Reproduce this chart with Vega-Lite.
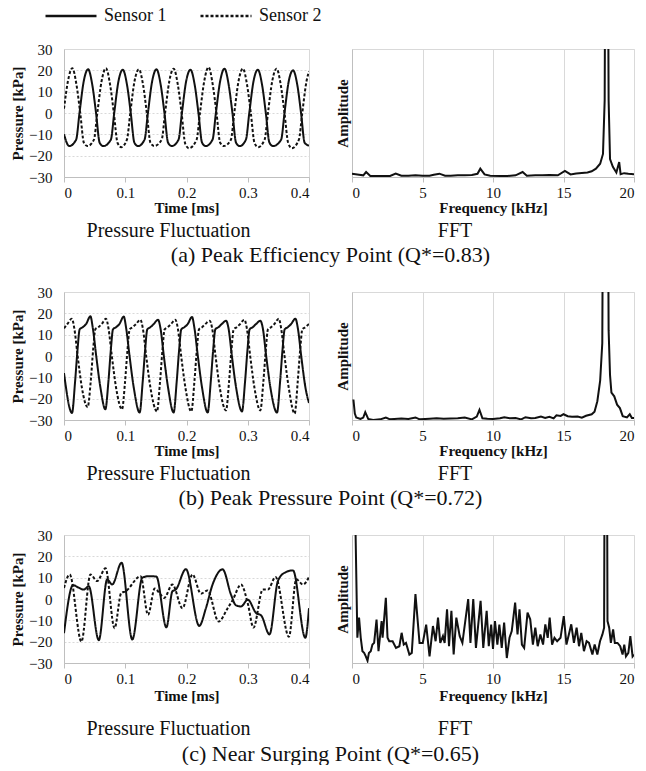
{
"$schema": "https://vega.github.io/schema/vega-lite/v6.json",
"padding": {"left": 10, "top": -12, "right": 0, "bottom": 0},
"background": "white",
"config": {
  "font": "Liberation Serif",
  "view": {"stroke": "#d9d9d9"},
  "axis": {"labelFont": "Liberation Serif", "labelFontSize": 15, "labelColor": "#111", "titleFont": "Liberation Serif", "titleFontSize": 15, "titleFontWeight": "bold", "titleColor": "#111", "domainColor": "#bfbfbf", "tickColor": "#bfbfbf", "gridColor": "#d9d9d9"},
  "title": {"font": "Liberation Serif", "fontSize": 20, "fontWeight": "normal", "color": "#111"}
},
"datasets": {
  "p1": [
    {"t":0,"p":-10,"s":"Sensor 1"},{"t":0.0085,"p":-15.5,"s":"Sensor 1"},{"t":0.0198,"p":-12.5,"s":"Sensor 1"},{"t":0.0253,"p":0,"s":"Sensor 1"},{"t":0.0323,"p":15,"s":"Sensor 1"},{"t":0.0393,"p":20.5,"s":"Sensor 1"},{"t":0.0463,"p":13,"s":"Sensor 1"},{"t":0.0523,"p":0,"s":"Sensor 1"},{"t":0.0583,"p":-14,"s":"Sensor 1"},{"t":0.0643,"p":-15.5,"s":"Sensor 1"},
    {"t":0.0765,"p":-12.5,"s":"Sensor 1"},{"t":0.082,"p":0,"s":"Sensor 1"},{"t":0.089,"p":15,"s":"Sensor 1"},{"t":0.096,"p":20.3,"s":"Sensor 1"},{"t":0.103,"p":13,"s":"Sensor 1"},{"t":0.109,"p":0,"s":"Sensor 1"},{"t":0.115,"p":-14,"s":"Sensor 1"},{"t":0.121,"p":-15.5,"s":"Sensor 1"},
    {"t":0.1315,"p":-12.5,"s":"Sensor 1"},{"t":0.137,"p":0,"s":"Sensor 1"},{"t":0.144,"p":15,"s":"Sensor 1"},{"t":0.151,"p":20.5,"s":"Sensor 1"},{"t":0.158,"p":13,"s":"Sensor 1"},{"t":0.164,"p":0,"s":"Sensor 1"},{"t":0.17,"p":-14,"s":"Sensor 1"},{"t":0.176,"p":-15.5,"s":"Sensor 1"},
    {"t":0.187,"p":-12.5,"s":"Sensor 1"},{"t":0.1925,"p":0,"s":"Sensor 1"},{"t":0.1995,"p":15,"s":"Sensor 1"},{"t":0.2065,"p":20.3,"s":"Sensor 1"},{"t":0.2135,"p":13,"s":"Sensor 1"},{"t":0.2195,"p":0,"s":"Sensor 1"},{"t":0.2255,"p":-14,"s":"Sensor 1"},{"t":0.2315,"p":-15.5,"s":"Sensor 1"},
    {"t":0.2425,"p":-12.5,"s":"Sensor 1"},{"t":0.248,"p":0,"s":"Sensor 1"},{"t":0.255,"p":15,"s":"Sensor 1"},{"t":0.262,"p":20.8,"s":"Sensor 1"},{"t":0.269,"p":13,"s":"Sensor 1"},{"t":0.275,"p":0,"s":"Sensor 1"},{"t":0.281,"p":-14,"s":"Sensor 1"},{"t":0.287,"p":-15.5,"s":"Sensor 1"},
    {"t":0.297,"p":-12.5,"s":"Sensor 1"},{"t":0.3025,"p":0,"s":"Sensor 1"},{"t":0.3095,"p":15,"s":"Sensor 1"},{"t":0.3165,"p":20.3,"s":"Sensor 1"},{"t":0.3235,"p":13,"s":"Sensor 1"},{"t":0.3295,"p":0,"s":"Sensor 1"},{"t":0.3355,"p":-14,"s":"Sensor 1"},{"t":0.3415,"p":-15.5,"s":"Sensor 1"},
    {"t":0.3545,"p":-12.5,"s":"Sensor 1"},{"t":0.36,"p":0,"s":"Sensor 1"},{"t":0.367,"p":15,"s":"Sensor 1"},{"t":0.374,"p":20,"s":"Sensor 1"},{"t":0.381,"p":13,"s":"Sensor 1"},{"t":0.387,"p":0,"s":"Sensor 1"},{"t":0.393,"p":-14,"s":"Sensor 1"},{"t":0.4,"p":-15.3,"s":"Sensor 1"},
    {"t":0,"p":2,"s":"Sensor 2"},{"t":0.0065,"p":15,"s":"Sensor 2"},{"t":0.0135,"p":21,"s":"Sensor 2"},{"t":0.0205,"p":13,"s":"Sensor 2"},{"t":0.0265,"p":0,"s":"Sensor 2"},{"t":0.0325,"p":-14,"s":"Sensor 2"},{"t":0.0385,"p":-15.5,"s":"Sensor 2"},
    {"t":0.0489,"p":-12.5,"s":"Sensor 2"},{"t":0.0544,"p":0,"s":"Sensor 2"},{"t":0.0614,"p":15,"s":"Sensor 2"},{"t":0.0684,"p":21,"s":"Sensor 2"},{"t":0.0754,"p":13,"s":"Sensor 2"},{"t":0.0814,"p":0,"s":"Sensor 2"},{"t":0.0874,"p":-14,"s":"Sensor 2"},{"t":0.0934,"p":-16,"s":"Sensor 2"},
    {"t":0.1027,"p":-12.5,"s":"Sensor 2"},{"t":0.1082,"p":0,"s":"Sensor 2"},{"t":0.1152,"p":15,"s":"Sensor 2"},{"t":0.1222,"p":20.5,"s":"Sensor 2"},{"t":0.1292,"p":13,"s":"Sensor 2"},{"t":0.1352,"p":0,"s":"Sensor 2"},{"t":0.1412,"p":-14,"s":"Sensor 2"},{"t":0.1472,"p":-15.5,"s":"Sensor 2"},
    {"t":0.1595,"p":-12.5,"s":"Sensor 2"},{"t":0.165,"p":0,"s":"Sensor 2"},{"t":0.172,"p":15,"s":"Sensor 2"},{"t":0.179,"p":20.8,"s":"Sensor 2"},{"t":0.186,"p":13,"s":"Sensor 2"},{"t":0.192,"p":0,"s":"Sensor 2"},{"t":0.198,"p":-14.5,"s":"Sensor 2"},{"t":0.204,"p":-16.5,"s":"Sensor 2"},
    {"t":0.2165,"p":-12.5,"s":"Sensor 2"},{"t":0.222,"p":0,"s":"Sensor 2"},{"t":0.229,"p":15,"s":"Sensor 2"},{"t":0.236,"p":21.5,"s":"Sensor 2"},{"t":0.243,"p":13,"s":"Sensor 2"},{"t":0.249,"p":0,"s":"Sensor 2"},{"t":0.255,"p":-14,"s":"Sensor 2"},{"t":0.261,"p":-15.5,"s":"Sensor 2"},
    {"t":0.2725,"p":-12.5,"s":"Sensor 2"},{"t":0.278,"p":0,"s":"Sensor 2"},{"t":0.285,"p":15,"s":"Sensor 2"},{"t":0.292,"p":20.8,"s":"Sensor 2"},{"t":0.299,"p":13,"s":"Sensor 2"},{"t":0.305,"p":0,"s":"Sensor 2"},{"t":0.311,"p":-14,"s":"Sensor 2"},{"t":0.317,"p":-16,"s":"Sensor 2"},
    {"t":0.3275,"p":-12.5,"s":"Sensor 2"},{"t":0.333,"p":0,"s":"Sensor 2"},{"t":0.34,"p":15,"s":"Sensor 2"},{"t":0.347,"p":20.8,"s":"Sensor 2"},{"t":0.354,"p":13,"s":"Sensor 2"},{"t":0.36,"p":0,"s":"Sensor 2"},{"t":0.366,"p":-14,"s":"Sensor 2"},{"t":0.372,"p":-16.5,"s":"Sensor 2"},
    {"t":0.3835,"p":-12.5,"s":"Sensor 2"},{"t":0.389,"p":0,"s":"Sensor 2"},{"t":0.396,"p":15,"s":"Sensor 2"},{"t":0.4,"p":19.5,"s":"Sensor 2"}
  ],
  "p2": [
    {"t":0,"p":-8,"s":"Sensor 1"},{"t":0.0131,"p":-26.7,"s":"Sensor 1"},{"t":0.0181,"p":-12,"s":"Sensor 1"},{"t":0.0221,"p":3,"s":"Sensor 1"},{"t":0.0256,"p":12.5,"s":"Sensor 1"},{"t":0.0306,"p":13.5,"s":"Sensor 1"},{"t":0.0361,"p":15,"s":"Sensor 1"},{"t":0.0431,"p":18.6,"s":"Sensor 1"},{"t":0.0471,"p":13,"s":"Sensor 1"},{"t":0.0526,"p":0,"s":"Sensor 1"},{"t":0.0596,"p":-15,"s":"Sensor 1"},
    {"t":0.0675,"p":-25,"s":"Sensor 1"},{"t":0.0725,"p":-12,"s":"Sensor 1"},{"t":0.0765,"p":3,"s":"Sensor 1"},{"t":0.08,"p":12.5,"s":"Sensor 1"},{"t":0.085,"p":13.5,"s":"Sensor 1"},{"t":0.0905,"p":15,"s":"Sensor 1"},{"t":0.0975,"p":18.5,"s":"Sensor 1"},{"t":0.1015,"p":13,"s":"Sensor 1"},{"t":0.107,"p":0,"s":"Sensor 1"},{"t":0.114,"p":-15,"s":"Sensor 1"},
    {"t":0.1235,"p":-26.5,"s":"Sensor 1"},{"t":0.1285,"p":-12,"s":"Sensor 1"},{"t":0.1325,"p":3,"s":"Sensor 1"},{"t":0.136,"p":12.5,"s":"Sensor 1"},{"t":0.141,"p":13.5,"s":"Sensor 1"},{"t":0.1465,"p":15,"s":"Sensor 1"},{"t":0.1535,"p":17,"s":"Sensor 1"},{"t":0.1575,"p":13,"s":"Sensor 1"},{"t":0.163,"p":0,"s":"Sensor 1"},{"t":0.17,"p":-15,"s":"Sensor 1"},
    {"t":0.179,"p":-26.5,"s":"Sensor 1"},{"t":0.184,"p":-12,"s":"Sensor 1"},{"t":0.188,"p":3,"s":"Sensor 1"},{"t":0.1915,"p":12.5,"s":"Sensor 1"},{"t":0.1965,"p":13.5,"s":"Sensor 1"},{"t":0.202,"p":15,"s":"Sensor 1"},{"t":0.209,"p":18.3,"s":"Sensor 1"},{"t":0.213,"p":13,"s":"Sensor 1"},{"t":0.2185,"p":0,"s":"Sensor 1"},{"t":0.2255,"p":-15,"s":"Sensor 1"},
    {"t":0.2346,"p":-26.5,"s":"Sensor 1"},{"t":0.2396,"p":-12,"s":"Sensor 1"},{"t":0.2436,"p":3,"s":"Sensor 1"},{"t":0.2471,"p":12.5,"s":"Sensor 1"},{"t":0.2521,"p":13.5,"s":"Sensor 1"},{"t":0.2576,"p":15,"s":"Sensor 1"},{"t":0.2646,"p":16.5,"s":"Sensor 1"},{"t":0.2686,"p":13,"s":"Sensor 1"},{"t":0.2741,"p":0,"s":"Sensor 1"},{"t":0.2811,"p":-15,"s":"Sensor 1"},
    {"t":0.2906,"p":-26,"s":"Sensor 1"},{"t":0.2956,"p":-12,"s":"Sensor 1"},{"t":0.2996,"p":3,"s":"Sensor 1"},{"t":0.3031,"p":12.5,"s":"Sensor 1"},{"t":0.3081,"p":13.5,"s":"Sensor 1"},{"t":0.3136,"p":15,"s":"Sensor 1"},{"t":0.3206,"p":16.5,"s":"Sensor 1"},{"t":0.3246,"p":13,"s":"Sensor 1"},{"t":0.3301,"p":0,"s":"Sensor 1"},{"t":0.3371,"p":-15,"s":"Sensor 1"},
    {"t":0.3478,"p":-26.5,"s":"Sensor 1"},{"t":0.3528,"p":-12,"s":"Sensor 1"},{"t":0.3568,"p":3,"s":"Sensor 1"},{"t":0.3603,"p":12.5,"s":"Sensor 1"},{"t":0.3653,"p":13.5,"s":"Sensor 1"},{"t":0.3708,"p":15,"s":"Sensor 1"},{"t":0.3778,"p":17.5,"s":"Sensor 1"},{"t":0.3818,"p":13,"s":"Sensor 1"},{"t":0.3873,"p":0,"s":"Sensor 1"},{"t":0.3943,"p":-15,"s":"Sensor 1"},{"t":0.4,"p":-22,"s":"Sensor 1"},
    {"t":0,"p":13,"s":"Sensor 2"},{"t":0.0055,"p":15,"s":"Sensor 2"},{"t":0.0128,"p":17.5,"s":"Sensor 2"},{"t":0.0168,"p":13,"s":"Sensor 2"},{"t":0.0223,"p":0,"s":"Sensor 2"},{"t":0.0293,"p":-15,"s":"Sensor 2"},{"t":0.0386,"p":-24,"s":"Sensor 2"},
    {"t":0.0436,"p":-12,"s":"Sensor 2"},{"t":0.0476,"p":3,"s":"Sensor 2"},{"t":0.0511,"p":12.5,"s":"Sensor 2"},{"t":0.0561,"p":13.5,"s":"Sensor 2"},{"t":0.0616,"p":15,"s":"Sensor 2"},{"t":0.0686,"p":17.5,"s":"Sensor 2"},{"t":0.0726,"p":13,"s":"Sensor 2"},{"t":0.0781,"p":0,"s":"Sensor 2"},{"t":0.0851,"p":-15,"s":"Sensor 2"},{"t":0.0947,"p":-25,"s":"Sensor 2"},
    {"t":0.0997,"p":-12,"s":"Sensor 2"},{"t":0.1037,"p":3,"s":"Sensor 2"},{"t":0.1072,"p":12.5,"s":"Sensor 2"},{"t":0.1122,"p":13.5,"s":"Sensor 2"},{"t":0.1177,"p":15,"s":"Sensor 2"},{"t":0.1247,"p":17,"s":"Sensor 2"},{"t":0.1287,"p":13,"s":"Sensor 2"},{"t":0.1342,"p":0,"s":"Sensor 2"},{"t":0.1412,"p":-15,"s":"Sensor 2"},{"t":0.1518,"p":-26,"s":"Sensor 2"},
    {"t":0.1568,"p":-12,"s":"Sensor 2"},{"t":0.1608,"p":3,"s":"Sensor 2"},{"t":0.1643,"p":12.5,"s":"Sensor 2"},{"t":0.1693,"p":13.5,"s":"Sensor 2"},{"t":0.1748,"p":15,"s":"Sensor 2"},{"t":0.1818,"p":17,"s":"Sensor 2"},{"t":0.1858,"p":13,"s":"Sensor 2"},{"t":0.1913,"p":0,"s":"Sensor 2"},{"t":0.1983,"p":-15,"s":"Sensor 2"},{"t":0.2079,"p":-26,"s":"Sensor 2"},
    {"t":0.2129,"p":-12,"s":"Sensor 2"},{"t":0.2169,"p":3,"s":"Sensor 2"},{"t":0.2204,"p":12.5,"s":"Sensor 2"},{"t":0.2254,"p":13.5,"s":"Sensor 2"},{"t":0.2309,"p":15,"s":"Sensor 2"},{"t":0.2379,"p":16.5,"s":"Sensor 2"},{"t":0.2419,"p":13,"s":"Sensor 2"},{"t":0.2474,"p":0,"s":"Sensor 2"},{"t":0.2544,"p":-15,"s":"Sensor 2"},{"t":0.2645,"p":-25.5,"s":"Sensor 2"},
    {"t":0.2695,"p":-12,"s":"Sensor 2"},{"t":0.2735,"p":3,"s":"Sensor 2"},{"t":0.277,"p":12.5,"s":"Sensor 2"},{"t":0.282,"p":13.5,"s":"Sensor 2"},{"t":0.2875,"p":15,"s":"Sensor 2"},{"t":0.2945,"p":17,"s":"Sensor 2"},{"t":0.2985,"p":13,"s":"Sensor 2"},{"t":0.304,"p":0,"s":"Sensor 2"},{"t":0.311,"p":-15,"s":"Sensor 2"},{"t":0.3205,"p":-25.5,"s":"Sensor 2"},
    {"t":0.3255,"p":-12,"s":"Sensor 2"},{"t":0.3295,"p":3,"s":"Sensor 2"},{"t":0.333,"p":12.5,"s":"Sensor 2"},{"t":0.338,"p":13.5,"s":"Sensor 2"},{"t":0.3435,"p":15,"s":"Sensor 2"},{"t":0.3505,"p":17.5,"s":"Sensor 2"},{"t":0.3545,"p":13,"s":"Sensor 2"},{"t":0.36,"p":0,"s":"Sensor 2"},{"t":0.367,"p":-15,"s":"Sensor 2"},{"t":0.3766,"p":-27,"s":"Sensor 2"},
    {"t":0.3816,"p":-12,"s":"Sensor 2"},{"t":0.3856,"p":3,"s":"Sensor 2"},{"t":0.3891,"p":12.5,"s":"Sensor 2"},{"t":0.3941,"p":13.5,"s":"Sensor 2"},{"t":0.4,"p":15,"s":"Sensor 2"}
  ],
  "p3": [
    {"t":0,"p":-16,"s":"Sensor 1"},{"t":0.0148,"p":6.5,"s":"Sensor 1"},{"t":0.024,"p":5.3,"s":"Sensor 1"},{"t":0.0322,"p":4.4,"s":"Sensor 1"},{"t":0.0404,"p":6,"s":"Sensor 1"},{"t":0.0568,"p":-19.3,"s":"Sensor 1"},{"t":0.0705,"p":9.2,"s":"Sensor 1"},{"t":0.0787,"p":6.8,"s":"Sensor 1"},{"t":0.094,"p":17,"s":"Sensor 1"},{"t":0.1115,"p":-19,"s":"Sensor 1"},{"t":0.1279,"p":10,"s":"Sensor 1"},{"t":0.1388,"p":10.7,"s":"Sensor 1"},{"t":0.1508,"p":10.5,"s":"Sensor 1"},{"t":0.1672,"p":-13.3,"s":"Sensor 1"},{"t":0.177,"p":3.6,"s":"Sensor 1"},{"t":0.1825,"p":4.4,"s":"Sensor 1"},{"t":0.199,"p":14,"s":"Sensor 1"},{"t":0.2208,"p":-12.6,"s":"Sensor 1"},{"t":0.2317,"p":-4.3,"s":"Sensor 1"},{"t":0.2426,"p":6.8,"s":"Sensor 1"},{"t":0.259,"p":13.9,"s":"Sensor 1"},{"t":0.2727,"p":2,"s":"Sensor 1"},{"t":0.2809,"p":-3,"s":"Sensor 1"},{"t":0.2891,"p":-3.5,"s":"Sensor 1"},{"t":0.3,"p":-0.3,"s":"Sensor 1"},{"t":0.3137,"p":-6.6,"s":"Sensor 1"},{"t":0.3219,"p":-7.7,"s":"Sensor 1"},{"t":0.3355,"p":-16.6,"s":"Sensor 1"},{"t":0.3492,"p":8.4,"s":"Sensor 1"},{"t":0.3601,"p":12.3,"s":"Sensor 1"},{"t":0.3738,"p":13.4,"s":"Sensor 1"},{"t":0.394,"p":-18.2,"s":"Sensor 1"},{"t":0.4,"p":-4.3,"s":"Sensor 1"},
    {"t":0,"p":5.2,"s":"Sensor 2"},{"t":0.0093,"p":11.5,"s":"Sensor 2"},{"t":0.0284,"p":-20,"s":"Sensor 2"},{"t":0.0432,"p":11.5,"s":"Sensor 2"},{"t":0.0541,"p":8.4,"s":"Sensor 2"},{"t":0.0678,"p":14.4,"s":"Sensor 2"},{"t":0.0825,"p":-13.7,"s":"Sensor 2"},{"t":0.0934,"p":2.8,"s":"Sensor 2"},{"t":0.1005,"p":3.6,"s":"Sensor 2"},{"t":0.1251,"p":10.7,"s":"Sensor 2"},{"t":0.1372,"p":-7.4,"s":"Sensor 2"},{"t":0.1481,"p":4.9,"s":"Sensor 2"},{"t":0.1579,"p":2,"s":"Sensor 2"},{"t":0.1634,"p":0.5,"s":"Sensor 2"},{"t":0.177,"p":6.8,"s":"Sensor 2"},{"t":0.1934,"p":-4.3,"s":"Sensor 2"},{"t":0.2098,"p":11.5,"s":"Sensor 2"},{"t":0.2235,"p":2.5,"s":"Sensor 2"},{"t":0.2344,"p":4,"s":"Sensor 2"},{"t":0.2525,"p":-10.6,"s":"Sensor 2"},{"t":0.2672,"p":-4.3,"s":"Sensor 2"},{"t":0.2754,"p":-0.5,"s":"Sensor 2"},{"t":0.2891,"p":6.8,"s":"Sensor 2"},{"t":0.3,"p":-2,"s":"Sensor 2"},{"t":0.3093,"p":-13.4,"s":"Sensor 2"},{"t":0.3246,"p":4.4,"s":"Sensor 2"},{"t":0.3328,"p":4.4,"s":"Sensor 2"},{"t":0.3454,"p":10.3,"s":"Sensor 2"},{"t":0.3672,"p":-17.7,"s":"Sensor 2"},{"t":0.3792,"p":9.2,"s":"Sensor 2"},{"t":0.3902,"p":6.8,"s":"Sensor 2"},{"t":0.4,"p":10.3,"s":"Sensor 2"}
  ],
  "f1": [
    {"f":0,"a":2.6},{"f":0.5,"a":1.8},{"f":0.8,"a":1.3},{"f":1.0,"a":3.9},{"f":1.3,"a":0.8},{"f":2.0,"a":0.8},{"f":2.7,"a":0.8},{"f":3.1,"a":2.6},{"f":3.5,"a":1},{"f":4,"a":1},{"f":4.5,"a":1.3},{"f":5,"a":1},{"f":5.5,"a":1},{"f":5.8,"a":1.8},{"f":6.2,"a":2.6},{"f":6.6,"a":1},{"f":7,"a":1},{"f":7.5,"a":1.3},{"f":8,"a":1.3},{"f":8.5,"a":1.6},{"f":8.9,"a":2.5},{"f":9.1,"a":6.5},{"f":9.4,"a":2},{"f":9.8,"a":1},{"f":10.5,"a":0.8},{"f":11,"a":0.8},{"f":11.6,"a":1.3},{"f":12.1,"a":3.9},{"f":12.4,"a":1},{"f":13,"a":1.3},{"f":13.5,"a":1.3},{"f":14,"a":1.6},{"f":14.6,"a":1.3},{"f":15.1,"a":4.7},{"f":15.5,"a":2},{"f":15.9,"a":2.8},{"f":16.3,"a":3.2},{"f":16.7,"a":3.5},{"f":17.0,"a":4.5},{"f":17.3,"a":6.5},{"f":17.6,"a":10.4},{"f":17.8,"a":18},{"f":17.92,"a":60},{"f":18.0,"a":300},{"f":18.1,"a":300},{"f":18.2,"a":60},{"f":18.3,"a":14},{"f":18.5,"a":8},{"f":18.75,"a":3.5},{"f":18.95,"a":11.7},{"f":19.05,"a":2.2},{"f":19.3,"a":3},{"f":19.6,"a":2.6},{"f":20,"a":2.2}
  ],
  "f2": [
    {"f":0.1,"a":16},{"f":0.2,"a":5},{"f":0.3,"a":1.9},{"f":0.6,"a":0.8},{"f":0.8,"a":1.9},{"f":0.94,"a":6.1},{"f":1.15,"a":0.8},{"f":1.5,"a":0},{"f":2,"a":0.5},{"f":2.4,"a":1.9},{"f":2.7,"a":0.5},{"f":3,"a":0.8},{"f":3.5,"a":1.1},{"f":4,"a":0.8},{"f":4.5,"a":2},{"f":4.8,"a":0.5},{"f":5.2,"a":0.8},{"f":5.5,"a":1},{"f":6,"a":1.3},{"f":6.5,"a":1},{"f":7,"a":1.1},{"f":7.5,"a":1.3},{"f":8,"a":1.9},{"f":8.5,"a":0.5},{"f":8.85,"a":2.7},{"f":9.04,"a":8},{"f":9.25,"a":1.3},{"f":9.6,"a":1},{"f":10,"a":0.8},{"f":10.5,"a":1.3},{"f":10.8,"a":2.2},{"f":11.2,"a":1.3},{"f":11.6,"a":1.5},{"f":12,"a":0.5},{"f":12.3,"a":2.2},{"f":12.7,"a":1.3},{"f":13,"a":1.5},{"f":13.4,"a":2.7},{"f":13.7,"a":1.6},{"f":14,"a":2.5},{"f":14.3,"a":1.3},{"f":14.5,"a":3.7},{"f":14.8,"a":3.2},{"f":15,"a":4.5},{"f":15.3,"a":3},{"f":15.6,"a":2.5},{"f":16,"a":2.7},{"f":16.3,"a":1.8},{"f":16.6,"a":3.3},{"f":17,"a":4.5},{"f":17.2,"a":6.5},{"f":17.4,"a":14.7},{"f":17.6,"a":30.7},{"f":17.75,"a":60},{"f":17.85,"a":300},{"f":18.1,"a":300},{"f":18.2,"a":70},{"f":18.3,"a":35},{"f":18.4,"a":21.3},{"f":18.6,"a":18.5},{"f":18.8,"a":12},{"f":19.0,"a":9.3},{"f":19.2,"a":3},{"f":19.5,"a":2},{"f":19.7,"a":4.5},{"f":19.85,"a":1.5},{"f":20,"a":1.5}
  ],
  "f3": [
    {"f":0.1,"a":200},{"f":0.38,"a":19.7},{"f":0.5,"a":35.4},{"f":0.62,"a":19.7},{"f":0.74,"a":9.2},{"f":0.86,"a":7.9},{"f":0.98,"a":5.2},{"f":1.1,"a":1.8},{"f":1.2,"a":7.9},{"f":1.33,"a":9.2},{"f":1.45,"a":14.4},{"f":1.57,"a":15.7},{"f":1.74,"a":34},{"f":1.88,"a":9.2},{"f":2.1,"a":32.8},{"f":2.17,"a":19.7},{"f":2.4,"a":51},{"f":2.52,"a":19.7},{"f":2.64,"a":17},{"f":2.88,"a":17},{"f":3.12,"a":11.8},{"f":3.36,"a":13.1},{"f":3.52,"a":23.6},{"f":3.67,"a":14.4},{"f":3.83,"a":15.7},{"f":4.07,"a":6.6},{"f":4.24,"a":7.9},{"f":4.5,"a":53.8},{"f":4.79,"a":15.7},{"f":5.02,"a":15.7},{"f":5.26,"a":30},{"f":5.5,"a":5.2},{"f":5.74,"a":28.9},{"f":5.93,"a":17},{"f":6.1,"a":35.4},{"f":6.26,"a":15.7},{"f":6.45,"a":21},{"f":6.57,"a":15.7},{"f":6.74,"a":42},{"f":6.88,"a":13.1},{"f":7.05,"a":40.7},{"f":7.21,"a":6.6},{"f":7.4,"a":35.4},{"f":7.64,"a":21},{"f":7.83,"a":15.7},{"f":8.24,"a":49.9},{"f":8.4,"a":15.7},{"f":8.6,"a":49.9},{"f":8.79,"a":11.8},{"f":9.12,"a":48.6},{"f":9.31,"a":11.8},{"f":9.55,"a":40.7},{"f":9.7,"a":13.1},{"f":9.87,"a":30},{"f":10.0,"a":11},{"f":10.14,"a":32.8},{"f":10.31,"a":14.4},{"f":10.45,"a":30},{"f":10.62,"a":11.8},{"f":10.79,"a":31.5},{"f":10.98,"a":3.9},{"f":11.17,"a":19.7},{"f":11.33,"a":24.9},{"f":11.57,"a":47.2},{"f":11.74,"a":22.3},{"f":11.88,"a":42},{"f":12.05,"a":14.4},{"f":12.21,"a":11.8},{"f":12.45,"a":39.4},{"f":12.64,"a":34.1},{"f":12.83,"a":14.4},{"f":13.0,"a":27.6},{"f":13.17,"a":13.1},{"f":13.36,"a":22.3},{"f":13.55,"a":14.4},{"f":13.71,"a":30.2},{"f":13.88,"a":19.7},{"f":14.02,"a":35.4},{"f":14.19,"a":14.4},{"f":14.36,"a":19.7},{"f":14.55,"a":17},{"f":14.79,"a":19.7},{"f":15.02,"a":36.7},{"f":15.21,"a":14.4},{"f":15.38,"a":22.3},{"f":15.55,"a":30.2},{"f":15.74,"a":15.7},{"f":15.93,"a":27.6},{"f":16.1,"a":13.1},{"f":16.26,"a":23.6},{"f":16.45,"a":9.2},{"f":16.64,"a":17},{"f":16.81,"a":15.7},{"f":17.05,"a":6.6},{"f":17.21,"a":14.4},{"f":17.4,"a":6.6},{"f":17.59,"a":17},{"f":17.76,"a":22.3},{"f":17.88,"a":27.6},{"f":17.95,"a":300},{"f":18.05,"a":300},{"f":18.12,"a":32.8},{"f":18.24,"a":27.6},{"f":18.36,"a":15.7},{"f":18.52,"a":26.2},{"f":18.64,"a":15.7},{"f":18.83,"a":15.7},{"f":19.02,"a":13.1},{"f":19.19,"a":6.6},{"f":19.31,"a":14.4},{"f":19.43,"a":5.2},{"f":19.6,"a":7.9},{"f":19.74,"a":21},{"f":19.9,"a":5.2},{"f":20,"a":6.6}
  ]
},
"bounds": "flush",
"spacing": 243,
"resolve": {"scale": {"strokeDash": "independent"}, "legend": {"strokeDash": "independent"}},
"vconcat": [
  {
    "bounds": "flush", "spacing": 43,
    "resolve": {"scale": {"strokeDash": "independent"}, "legend": {"strokeDash": "independent"}},
    "title": {"text": "(a) Peak Efficiency Point (Q*=0.83)", "orient": "bottom", "anchor": "middle", "frame": "bounds", "dx": 8, "fontSize": 22, "offset": 3},
    "hconcat": [
      {
        "width": 245, "height": 128,
        "data": {"name": "p1"},
        "mark": {"type": "line", "interpolate": "monotone", "strokeWidth": 2, "color": "#111", "clip": true},
        "encoding": {
          "x": {"field": "t", "type": "quantitative", "scale": {"domain": [0, 0.4], "nice": false}, "axis": {"title": "Time [ms]", "values": [0, 0.1, 0.2, 0.3, 0.4], "labelExpr": "datum.value === 0 ? '0' : format(datum.value, '.1f')", "grid": false, "tickSize": 5, "labelPadding": 3, "titlePadding": 0}},
          "y": {"field": "p", "type": "quantitative", "scale": {"domain": [-30, 30], "nice": false}, "axis": {"title": "Pressure [kPa]", "values": [-30, -20, -10, 0, 10, 20, 30], "grid": true, "gridDash": [2, 2], "ticks": false, "labelPadding": 12, "titlePadding": 3}},
          "strokeDash": {"field": "s", "type": "nominal", "scale": {"domain": ["Sensor 1", "Sensor 2"], "range": [[1, 0], [3, 2]]}, "legend": {"orient": "none", "legendX": -20, "legendY": -60, "direction": "horizontal", "title": null, "symbolType": "stroke", "symbolSize": 2600, "symbolStrokeWidth": 2.5, "symbolStrokeColor": "#111", "labelFont": "Liberation Serif", "labelFontSize": 18, "labelColor": "#111", "columnPadding": 28, "labelOffset": 6, "padding": 0}}
        },
        "title": {"text": "Pressure Fluctuation", "orient": "bottom", "frame": "group", "dx": -18, "offset": 6}
      },
      {
        "width": 282, "height": 128,
        "data": {"name": "f1"},
        "mark": {"type": "line", "strokeWidth": 2, "color": "#111", "clip": true},
        "encoding": {
          "x": {"field": "f", "type": "quantitative", "scale": {"domain": [0, 20], "nice": false}, "axis": {"title": "Frequency [kHz]", "values": [0, 5, 10, 15, 20], "grid": true, "tickSize": 5, "labelPadding": 3, "titlePadding": 0}},
          "y": {"field": "a", "type": "quantitative", "scale": {"domain": [0, 100], "nice": false}, "axis": {"title": "Amplitude", "labels": false, "ticks": false, "grid": false, "titlePadding": 2}}
        },
        "title": {"text": "FFT", "orient": "bottom", "frame": "group", "dx": -38, "offset": 6}
      }
    ]
  },
  {
    "bounds": "flush", "spacing": 43,
    "resolve": {"scale": {"strokeDash": "independent"}, "legend": {"strokeDash": "independent"}},
    "title": {"text": "(b) Peak Pressure Point (Q*=0.72)", "orient": "bottom", "anchor": "middle", "frame": "bounds", "dx": 8, "fontSize": 22, "offset": 3},
    "hconcat": [
      {
        "width": 245, "height": 128,
        "data": {"name": "p2"},
        "mark": {"type": "line", "interpolate": "monotone", "strokeWidth": 2, "color": "#111", "clip": true},
        "encoding": {
          "x": {"field": "t", "type": "quantitative", "scale": {"domain": [0, 0.4], "nice": false}, "axis": {"title": "Time [ms]", "values": [0, 0.1, 0.2, 0.3, 0.4], "labelExpr": "datum.value === 0 ? '0' : format(datum.value, '.1f')", "grid": false, "tickSize": 5, "labelPadding": 3, "titlePadding": 0}},
          "y": {"field": "p", "type": "quantitative", "scale": {"domain": [-30, 30], "nice": false}, "axis": {"title": "Pressure [kPa]", "values": [-30, -20, -10, 0, 10, 20, 30], "grid": true, "gridDash": [2, 2], "ticks": false, "labelPadding": 12, "titlePadding": 3}},
          "strokeDash": {"field": "s", "type": "nominal", "scale": {"domain": ["Sensor 1", "Sensor 2"], "range": [[1, 0], [3, 2]]}, "legend": null}
        },
        "title": {"text": "Pressure Fluctuation", "orient": "bottom", "frame": "group", "dx": -18, "offset": 6}
      },
      {
        "width": 282, "height": 128,
        "data": {"name": "f2"},
        "mark": {"type": "line", "strokeWidth": 2, "color": "#111", "clip": true},
        "encoding": {
          "x": {"field": "f", "type": "quantitative", "scale": {"domain": [0, 20], "nice": false}, "axis": {"title": "Frequency [kHz]", "values": [0, 5, 10, 15, 20], "grid": true, "tickSize": 5, "labelPadding": 3, "titlePadding": 0}},
          "y": {"field": "a", "type": "quantitative", "scale": {"domain": [0, 100], "nice": false}, "axis": {"title": "Amplitude", "labels": false, "ticks": false, "grid": false, "titlePadding": 2}}
        },
        "title": {"text": "FFT", "orient": "bottom", "frame": "group", "dx": -38, "offset": 6}
      }
    ]
  },
  {
    "bounds": "flush", "spacing": 43,
    "resolve": {"scale": {"strokeDash": "independent"}, "legend": {"strokeDash": "independent"}},
    "title": {"text": "(c) Near Surging Point (Q*=0.65)", "orient": "bottom", "anchor": "middle", "frame": "bounds", "dx": 8, "fontSize": 22, "offset": 4},
    "hconcat": [
      {
        "width": 245, "height": 128,
        "data": {"name": "p3"},
        "mark": {"type": "line", "interpolate": "monotone", "strokeWidth": 2, "color": "#111", "clip": true},
        "encoding": {
          "x": {"field": "t", "type": "quantitative", "scale": {"domain": [0, 0.4], "nice": false}, "axis": {"title": "Time [ms]", "values": [0, 0.1, 0.2, 0.3, 0.4], "labelExpr": "datum.value === 0 ? '0' : format(datum.value, '.1f')", "grid": false, "tickSize": 5, "labelPadding": 3, "titlePadding": 2}},
          "y": {"field": "p", "type": "quantitative", "scale": {"domain": [-30, 30], "nice": false}, "axis": {"title": "Pressure [kPa]", "values": [-30, -20, -10, 0, 10, 20, 30], "grid": true, "gridDash": [2, 2], "ticks": false, "labelPadding": 12, "titlePadding": 3}},
          "strokeDash": {"field": "s", "type": "nominal", "scale": {"domain": ["Sensor 1", "Sensor 2"], "range": [[1, 0], [3, 2]]}, "legend": null}
        },
        "title": {"text": "Pressure Fluctuation", "orient": "bottom", "frame": "group", "dx": -18, "offset": 16}
      },
      {
        "width": 282, "height": 128,
        "data": {"name": "f3"},
        "mark": {"type": "line", "strokeWidth": 2, "color": "#111", "clip": true},
        "encoding": {
          "x": {"field": "f", "type": "quantitative", "scale": {"domain": [0, 20], "nice": false}, "axis": {"title": "Frequency [kHz]", "values": [0, 5, 10, 15, 20], "grid": true, "tickSize": 5, "labelPadding": 3, "titlePadding": 2}},
          "y": {"field": "a", "type": "quantitative", "scale": {"domain": [0, 100], "nice": false}, "axis": {"title": "Amplitude", "labels": false, "ticks": false, "grid": false, "titlePadding": 2}}
        },
        "title": {"text": "FFT", "orient": "bottom", "frame": "group", "dx": -38, "offset": 16}
      }
    ]
  }
]
}
